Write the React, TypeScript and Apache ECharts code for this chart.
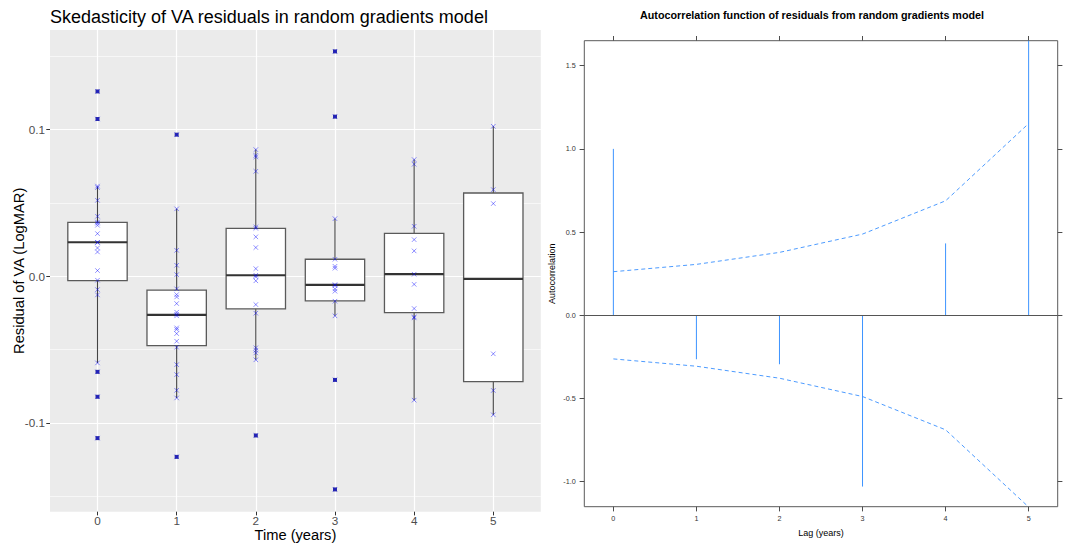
import React, { useEffect, useRef } from "react";
import * as echarts from "echarts";

// ---------- Left panel data: residuals by time ----------
const TIMES = [0, 1, 2, 3, 4, 5];
const TIME_LABELS = ["0", "1", "2", "3", "4", "5"];

const BOX_LOW = [-0.0591, -0.083, -0.057, -0.027, -0.0845, -0.0945];
const BOX_Q1 = [-0.003, -0.0473, -0.0222, -0.0168, -0.0248, -0.0718];
const BOX_MED = [0.0232, -0.0263, 0.0007, -0.0059, 0.0014, -0.0018];
const BOX_Q3 = [0.0368, -0.0095, 0.0327, 0.0116, 0.0293, 0.0568];
const BOX_HIGH = [0.0612, 0.046, 0.0864, 0.0393, 0.0796, 0.1023];

const POINTS_T0 = [0.0615, 0.0605, 0.0518, 0.0409, 0.037, 0.0362, 0.0348, 0.0291, 0.0232, 0.023, 0.0193, 0.0166, 0.0039, -0.0027, -0.0091, -0.0127, -0.0591];
const POINTS_T1 = [0.046, 0.0177, 0.0075, 0.0011, -0.0086, -0.0125, -0.0141, -0.0186, -0.0245, -0.0259, -0.027, -0.0352, -0.0363, -0.0391, -0.0443, -0.0484, -0.0603, -0.0671, -0.0778, -0.083];
const POINTS_T2 = [0.0864, 0.0825, 0.0814, 0.0716, 0.0337, 0.0327, 0.0269, 0.0196, 0.0052, 0.0007, -0.0004, -0.0031, -0.0193, -0.0252, -0.0488, -0.0505, -0.0523, -0.057];
const POINTS_T3 = [0.0393, 0.0116, 0.0068, 0.0055, -0.0057, -0.0063, -0.0086, -0.0102, -0.017, -0.027];
const POINTS_T4 = [0.0796, 0.0764, 0.0341, 0.025, 0.0173, 0.0014, -0.0055, -0.022, -0.0277, -0.0284, -0.0845];
const POINTS_T5 = [0.1023, 0.0591, 0.0496, -0.0529, -0.0779, -0.0945];

const OUTLIERS_T0 = [0.1261, 0.1073, -0.0652, -0.0822, -0.1104];
const OUTLIERS_T1 = [0.0966, -0.1232];
const OUTLIERS_T2 = [-0.1086];
const OUTLIERS_T3 = [0.1534, 0.1089, -0.0707, -0.1454];
const OUTLIERS_T4: number[] = [];
const OUTLIERS_T5: number[] = [];

const Y_MAJOR = [-0.1, 0, 0.1];
const Y_MINOR = [-0.15, -0.05, 0.05, 0.15];

// ---------- Right panel data: ACF ----------
const LAGS = [0, 1, 2, 3, 4, 5];
const ACF_VALUES = [1.0, -0.264, -0.294, -1.029, 0.432, 1.8];
const ACF_BOUND = [0.262, 0.306, 0.378, 0.488, 0.688, 1.152];
const ACF_Y_TICKS = [-1, -0.5, 0, 0.5, 1, 1.5];

const FONT = "'Liberation Sans', Arial, Helvetica, sans-serif";

export default function App() {
  const ref = useRef<HTMLDivElement>(null);

  useEffect(() => {
    document.body.style.margin = "0";
    if (!ref.current) return;
    const chart = echarts.init(ref.current, null, { renderer: "svg" });

    const pointsByTime = [POINTS_T0, POINTS_T1, POINTS_T2, POINTS_T3, POINTS_T4, POINTS_T5];
    const outliersByTime = [OUTLIERS_T0, OUTLIERS_T1, OUTLIERS_T2, OUTLIERS_T3, OUTLIERS_T4, OUTLIERS_T5];

    const boxData = TIMES.map((t, i) => [t, BOX_LOW[i], BOX_Q1[i], BOX_MED[i], BOX_Q3[i], BOX_HIGH[i]]);
    const crossData: number[][] = [];
    const outlierData: number[][] = [];
    TIMES.forEach((t, i) => {
      pointsByTime[i].forEach((v) => crossData.push([t, v]));
      outliersByTime[i].forEach((v) => {
        outlierData.push([t, v]);
        crossData.push([t, v]);
      });
    });

    const acfData = LAGS.map((l, i) => [l, ACF_VALUES[i]]);
    const upper = LAGS.map((l, i) => [l, ACF_BOUND[i]]);
    const lower = LAGS.map((l, i) => [l, -ACF_BOUND[i]]);

    const ACF_BLUE = "#3d94ff";
    const noLine = { show: false, onZero: false };

    const option: any = {
      animation: false,
      backgroundColor: "#ffffff",
      textStyle: { fontFamily: FONT },
      title: [
        {
          text: "Skedasticity of VA residuals in random gradients model",
          left: 50,
          top: 8,
          padding: 0,
          textStyle: { fontFamily: FONT, fontSize: 18, fontWeight: "normal", color: "#000" },
        },
        {
          text: "Autocorrelation function of residuals from random gradients model",
          left: 640,
          top: 9.5,
          padding: 0,
          textStyle: { fontFamily: FONT, fontSize: 10.75, fontWeight: "bold", color: "#000" },
        },
      ],
      grid: [
        {
          left: 50,
          top: 30,
          width: 490.8,
          height: 481.7,
          show: true,
          backgroundColor: "#EBEBEB",
          borderWidth: 0,
          outerBoundsMode: "none",
        },
        {
          left: 584.3,
          top: 40.7,
          width: 473.4,
          height: 466,
          show: true,
          backgroundColor: "transparent",
          borderColor: "#5a5a5a",
          borderWidth: 1,
          outerBoundsMode: "none",
        },
      ],
      xAxis: [
        {
          gridIndex: 0,
          type: "value",
          position: "bottom",
          min: -0.6,
          max: 5.6,
          axisLine: noLine,
          axisTick: { show: true, length: 3.7, lineStyle: { color: "#333", width: 1 }, customValues: TIMES },
          axisLabel: {
            customValues: TIMES,
            formatter: (v: number) => TIME_LABELS[Math.round(v)] ?? "",
            color: "#4D4D4D",
            fontSize: 11.7,
            fontFamily: FONT,
            margin: 3,
          },
          splitLine: { show: true, lineStyle: { color: "#ffffff", width: 1.2 } },
          name: "Time (years)",
          nameLocation: "middle",
          nameGap: 15.5,
          nameMoveOverlap: false,
          nameTextStyle: { color: "#000", fontSize: 14.7, fontFamily: FONT },
        },
        {
          gridIndex: 1,
          type: "value",
          position: "bottom",
          min: -0.35,
          max: 5.35,
          axisLine: noLine,
          axisTick: { show: true, length: 4.7, lineStyle: { color: "#4d4d4d", width: 1 }, customValues: LAGS },
          axisLabel: {
            customValues: LAGS,
            formatter: (v: number) => String(Math.round(v)),
            color: "#333",
            fontSize: 7.2,
            fontFamily: FONT,
            margin: 8,
          },
          splitLine: { show: false },
          name: "Lag (years)",
          nameLocation: "middle",
          nameGap: 22,
          nameMoveOverlap: false,
          nameTextStyle: { color: "#000", fontSize: 9, fontFamily: FONT },
        },
        {
          gridIndex: 1,
          type: "value",
          position: "top",
          min: -0.35,
          max: 5.35,
          axisLine: noLine,
          axisTick: { show: true, length: 4.7, lineStyle: { color: "#4d4d4d", width: 1 }, customValues: LAGS },
          axisLabel: { show: false, customValues: LAGS },
          splitLine: { show: false },
        },
      ],
      yAxis: [
        {
          gridIndex: 0,
          type: "value",
          position: "left",
          min: -0.1606,
          max: 0.168,
          axisLine: noLine,
          axisTick: { show: true, length: 3.7, lineStyle: { color: "#333", width: 1 }, customValues: Y_MAJOR },
          axisLabel: {
            customValues: Y_MAJOR,
            formatter: (v: number) => v.toFixed(1),
            color: "#4D4D4D",
            fontSize: 11.7,
            fontFamily: FONT,
            margin: 5,
          },
          splitLine: { show: true, lineStyle: { color: "#ffffff", width: 1.2 } },
          name: "Residual of VA (LogMAR)",
          nameLocation: "middle",
          nameRotate: 90,
          nameGap: 24,
          nameMoveOverlap: false,
          nameTextStyle: { color: "#000", fontSize: 14.7, fontFamily: FONT },
        },
        {
          gridIndex: 0,
          type: "value",
          min: -0.1606,
          max: 0.168,
          position: "left",
          axisLine: noLine,
          axisTick: { show: false, customValues: Y_MINOR },
          axisLabel: { show: false, customValues: Y_MINOR },
          splitLine: { show: true, lineStyle: { color: "#ffffff", width: 0.6 } },
        },
        {
          gridIndex: 1,
          type: "value",
          position: "left",
          min: -1.15,
          max: 1.65,
          axisLine: noLine,
          axisTick: { show: true, length: 4.7, lineStyle: { color: "#4d4d4d", width: 1 }, customValues: ACF_Y_TICKS },
          axisLabel: {
            customValues: ACF_Y_TICKS,
            formatter: (v: number) => v.toFixed(1),
            color: "#333",
            fontSize: 7.2,
            fontFamily: FONT,
            margin: 8.6,
          },
          splitLine: { show: false },
          name: "Autocorrelation",
          nameLocation: "middle",
          nameRotate: 90,
          nameGap: 28,
          nameMoveOverlap: false,
          nameTextStyle: { color: "#000", fontSize: 9, fontFamily: FONT },
        },
        {
          gridIndex: 1,
          type: "value",
          position: "right",
          min: -1.15,
          max: 1.65,
          axisLine: noLine,
          axisTick: { show: true, length: 4.7, lineStyle: { color: "#4d4d4d", width: 1 }, customValues: ACF_Y_TICKS },
          axisLabel: { show: false, customValues: ACF_Y_TICKS },
          splitLine: { show: false },
        },
      ],
      series: [
        {
          type: "custom",
          name: "box",
          xAxisIndex: 0,
          yAxisIndex: 0,
          data: boxData,
          encode: { x: 0, y: [1, 2, 3, 4, 5] },
          renderItem: (params: any, api: any) => {
            const x = api.value(0);
            const lo = api.coord([x, api.value(1)]);
            const q1 = api.coord([x, api.value(2)]);
            const md = api.coord([x, api.value(3)]);
            const q3 = api.coord([x, api.value(4)]);
            const hi = api.coord([x, api.value(5)]);
            const w = api.size([0.75, 0])[0];
            const cx = md[0];
            return {
              type: "group",
              children: [
                { type: "line", shape: { x1: cx, y1: hi[1], x2: cx, y2: q3[1] }, style: { stroke: "#444", lineWidth: 1.1 } },
                { type: "line", shape: { x1: cx, y1: q1[1], x2: cx, y2: lo[1] }, style: { stroke: "#444", lineWidth: 1.1 } },
                {
                  type: "rect",
                  shape: { x: cx - w / 2, y: q3[1], width: w, height: q1[1] - q3[1] },
                  style: { fill: "#ffffff", stroke: "#5a5a5a", lineWidth: 1.3 },
                },
                { type: "line", shape: { x1: cx - w / 2, y1: md[1], x2: cx + w / 2, y2: md[1] }, style: { stroke: "#333", lineWidth: 2.2 } },
              ],
            };
          },
          z: 2,
        },
        {
          type: "scatter",
          name: "outliers",
          xAxisIndex: 0,
          yAxisIndex: 0,
          data: outlierData,
          symbol: "rect",
          symbolSize: 4,
          itemStyle: { color: "#00008B" },
          z: 3,
        },
        {
          type: "scatter",
          name: "residuals",
          xAxisIndex: 0,
          yAxisIndex: 0,
          data: crossData,
          symbol: "path://M0,0L10,10M10,0L0,10",
          symbolSize: 4.5,
          itemStyle: { color: "rgba(0,0,0,0)", borderColor: "rgba(0,0,255,0.55)", borderWidth: 1 },
          z: 4,
        },
        {
          type: "custom",
          name: "acf",
          xAxisIndex: 1,
          yAxisIndex: 2,
          data: acfData,
          encode: { x: 0, y: 1 },
          renderItem: (params: any, api: any) => {
            const lag = api.value(0);
            const p0 = api.coord([lag, 0]);
            const p1 = api.coord([lag, api.value(1)]);
            const cs = params.coordSys;
            const y2 = Math.max(cs.y, Math.min(cs.y + cs.height, p1[1]));
            return {
              type: "line",
              shape: { x1: p0[0], y1: p0[1], x2: p0[0], y2 },
              style: { stroke: ACF_BLUE, lineWidth: 1 },
            };
          },
          z: 3,
        },
        {
          type: "line",
          name: "upper",
          xAxisIndex: 1,
          yAxisIndex: 2,
          data: upper,
          symbol: "none",
          clip: true,
          lineStyle: { color: "#4d9bff", width: 1, type: [4, 3] },
          markLine: {
            silent: true,
            symbol: "none",
            label: { show: false },
            lineStyle: { color: "#555", type: "solid", width: 1 },
            data: [{ yAxis: 0 }],
          },
          z: 2,
        },
        {
          type: "line",
          name: "lower",
          xAxisIndex: 1,
          yAxisIndex: 2,
          data: lower,
          symbol: "none",
          clip: true,
          lineStyle: { color: "#4d9bff", width: 1, type: [4, 3] },
          z: 2,
        },
      ],
    };

    chart.setOption(option);
    return () => {
      chart.dispose();
    };
  }, []);

  return <div ref={ref} style={{ width: 1065, height: 545 }} />;
}
